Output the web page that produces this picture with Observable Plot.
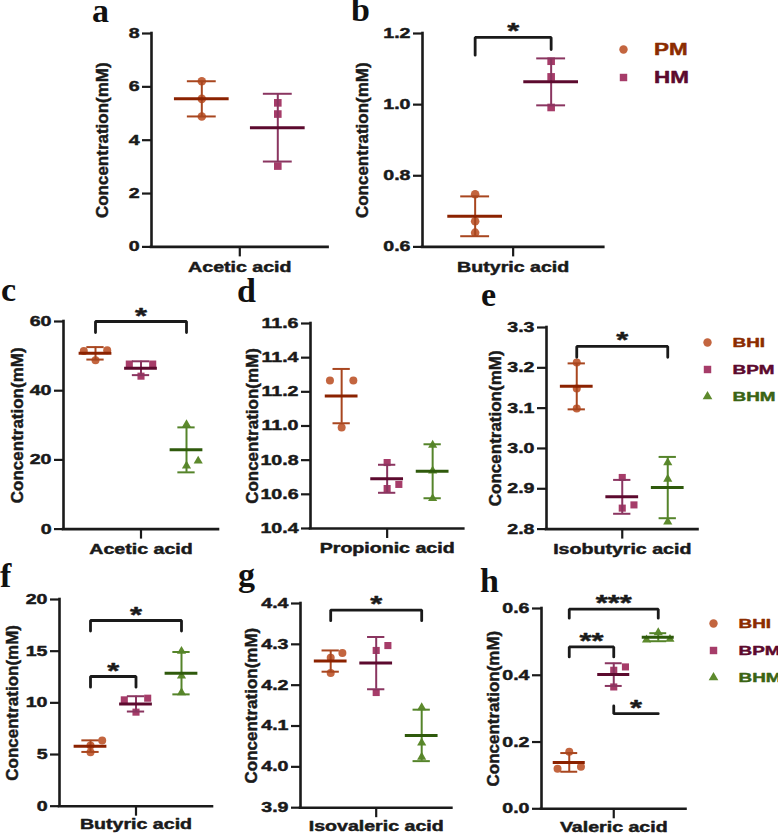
<!DOCTYPE html>
<html><head><meta charset="utf-8">
<script src="https://cdn.jsdelivr.net/npm/d3@7"></script>
<script src="https://cdn.jsdelivr.net/npm/@observablehq/plot@0.6"></script>
<style>
body{margin:0;background:#fff;}
#root{position:relative;width:778px;height:834px;overflow:hidden;background:#fff;}
.letter{position:absolute;font-family:"Liberation Serif","DejaVu Serif",serif;font-weight:bold;font-size:34px;line-height:20px;color:#111;}
.panel{position:absolute;overflow:visible;}
</style></head>
<body><div id="root"></div>
<script>
// ---------------- data ----------------
const groupsPH = ["PM", "HM"];
const groupsB = ["BHI", "BPM", "BHM"];
const yTitle = "Concentration(mM)";

// a: Acetic acid (PM, HM)
const aValues = [[6.21, 5.55, 4.89], [5.40, 4.98, 3.03]];
const aMean = [5.55, 4.47];
const aSD = [0.66, 1.27];
const aTicks = [0, 2, 4, 6, 8];

// b: Butyric acid (PM, HM)
const bValues = [[0.748, 0.672, 0.640], [1.122, 1.078, 0.992]];
const bMean = [0.686, 1.064];
const bSD = [0.056, 0.066];
const bTicks = [0.6, 0.8, 1.0, 1.2];
const bBrackets = [{from: 0, to: 1, y: 1.189, legFrom: 1.139, legTo: 1.155, label: "*"}];

// c: Acetic acid (BHI, BPM, BHM)
const cValues = [[51.5, 51.7, 48.8], [47.7, 47.7, 44.2], [30.2, 18.3, 19.7]];
const cMean = [50.8, 46.5, 22.9];
const cSD = [1.8, 2.0, 6.5];
const cTicks = [0, 20, 40, 60];
const cBrackets = [{from: 0, to: 2, y: 60, legFrom: 56.8, legTo: 56.8, label: "*"}];

// d: Propionic acid
const dValues = [[11.266, 11.266, 10.991], [10.786, 10.634, 10.658], [10.888, 10.738, 10.576]];
const dMean = [11.175, 10.691, 10.735];
const dSD = [0.159, 0.082, 0.158];
const dTicks = [10.4, 10.6, 10.8, 11.0, 11.2, 11.4, 11.6];

// e: Isobutyric acid
const eValues = [[3.213, 3.149, 3.099], [2.928, 2.852, 2.860], [2.965, 2.924, 2.818]];
const eMean = [3.154, 2.880, 2.903];
const eSD = [0.057, 0.042, 0.076];
const eTicks = [2.8, 2.9, 3.0, 3.1, 3.2, 3.3];
const eBrackets = [{from: 0, to: 2, y: 3.253, legFrom: 3.226, legTo: 3.226, label: "*"}];

// f: Butyric acid
const fValues = [[5.87, 6.35, 5.23], [10.29, 10.45, 9.10], [15.0, 12.6, 11.0]];
const fMean = [5.81, 9.90, 12.87];
const fSD = [0.56, 0.74, 2.05];
const fTicks = [0, 5, 10, 15, 20];
const fBrackets = [
  {from: 0, to: 2, y: 17.97, legFrom: 16.94, legTo: 16.94, label: "*"},
  {from: 0, to: 1, y: 12.55, legFrom: 11.52, legTo: 11.52, label: "*"}
];

// g: Isovaleric acid
const gValues = [[4.267, 4.279, 4.230], [4.297, 4.285, 4.182], [4.145, 4.059, 4.024]];
const gMean = [4.259, 4.254, 4.077];
const gSD = [0.026, 0.064, 0.063];
const gTicks = [3.9, 4.0, 4.1, 4.2, 4.3, 4.4];
const gBrackets = [{from: 0, to: 2, y: 4.384, legFrom: 4.358, legTo: 4.358, label: "*"}];

// h: Valeric acid
const hValues = [[0.171, 0.120, 0.126], [0.415, 0.425, 0.365], [0.528, 0.506, 0.508]];
const hMean = [0.139, 0.402, 0.514];
const hSD = [0.028, 0.034, 0.012];
const hTicks = [0.0, 0.2, 0.4, 0.6];
const hBrackets = [
  {from: 0, to: 2, y: 0.598, legFrom: 0.571, legTo: 0.571, label: "***"},
  {from: 0, to: 1, y: 0.485, legFrom: 0.455, legTo: 0.455, label: "**"},
  {from: 1, to: 2, y: 0.285, legFrom: 0.308, legTo: null, label: "*"}
];

// ---------------- styles ----------------
const pointColor = {PM: "#c3653f", HM: "#a63c69", BHI: "#c3653f", BPM: "#a63c69", BHM: "#5d8a2d"};
const meanColor = {PM: "#8b2200", HM: "#5c0a2e", BHI: "#8b2200", BPM: "#5c0a2e", BHM: "#2f5a0c"};
const whiskerColor = {PM: "#a8461f", HM: "#8a3560", BHI: "#a8461f", BPM: "#8a3560", BHM: "#55842a"};
const legendTextColor = {PM: "#8b2c00", HM: "#5c0a2e", BHI: "#8b2c00", BPM: "#5c0a2e", BHM: "#3a6414"};
const symbolOf = {PM: "circle", HM: "square", BHI: "circle", BPM: "square", BHM: "triangle"};
const ink = "#1a1a1a";
const FONT = "'Liberation Sans', Arial, sans-serif";
const STRETCH = 1.4;

const panels = [
  {id: "a", acid: "Acetic acid", groups: groupsPH, values: aValues, mean: aMean, sd: aSD, ticks: aTicks, fmt: "d", brackets: [],
   L: {left: 150.7, right: 327.3, top: 33.3, bottom: 246.7, titleDx: -49, spacing: 76, r: 4.3, pad: 5}},
  {id: "b", acid: "Butyric acid", groups: groupsPH, values: bValues, mean: bMean, sd: bSD, ticks: bTicks, fmt: ".1f", brackets: bBrackets,
   L: {left: 421.7, right: 603, top: 33.3, bottom: 246.7, titleDx: -60, spacing: 76, r: 4.3, pad: 5}},
  {id: "c", acid: "Acetic acid", groups: groupsB, values: cValues, mean: cMean, sd: cSD, ticks: cTicks, fmt: "d", brackets: cBrackets,
   L: {left: 63.3, right: 218.3, top: 320.7, bottom: 528.3, titleDx: -46, spacing: 45.5, r: 4, pad: 5}},
  {id: "d", acid: "Propionic acid", groups: groupsB, values: dValues, mean: dMean, sd: dSD, ticks: dTicks, fmt: ".1f", brackets: [],
   L: {left: 310, right: 463.3, top: 323.3, bottom: 528.3, titleDx: -58, spacing: 45.5, r: 4, pad: 5}},
  {id: "e", acid: "Isobutyric acid", groups: groupsB, values: eValues, mean: eMean, sd: eSD, ticks: eTicks, fmt: ".1f", brackets: eBrackets,
   L: {left: 545.8, right: 697.3, top: 326.7, bottom: 528.3, titleDx: -51, spacing: 45.5, r: 4, pad: 5}},
  {id: "f", acid: "Butyric acid", groups: groupsB, values: fValues, mean: fMean, sd: fSD, ticks: fTicks, fmt: "d", brackets: fBrackets,
   L: {left: 59.3, right: 212.3, top: 599, bottom: 805.7, titleDx: -47, spacing: 45.5, r: 4, pad: 3}},
  {id: "g", acid: "Isovaleric acid", groups: groupsB, values: gValues, mean: gMean, sd: gSD, ticks: gTicks, fmt: ".1f", brackets: gBrackets,
   L: {left: 300.3, right: 451.7, top: 603.3, bottom: 807.5, titleDx: -49, spacing: 45.5, r: 4, pad: 3}},
  {id: "h", acid: "Valeric acid", groups: groupsB, values: hValues, mean: hMean, sd: hSD, ticks: hTicks, fmt: ".1f", brackets: hBrackets,
   L: {left: 540.5, right: 685, top: 607.7, bottom: 808, titleDx: -48, spacing: 44.5, r: 4, pad: 3}}
];

const letters = [
  {t: "a", x: 92, base: 22}, {t: "b", x: 351, base: 21},
  {t: "c", x: 1, base: 301}, {t: "d", x: 237, base: 302}, {t: "e", x: 481, base: 306},
  {t: "f", x: 0, base: 587}, {t: "g", x: 238, base: 586}, {t: "h", x: 480, base: 592}
];

const legends = [
  {groups: groupsPH, x: 622.7, y: 49.3, step: 28, textDx: 30.6, fontSize: 16},
  {groups: groupsB, x: 706.7, y: 341, step: 27.7, textDx: 25, fontSize: 13.5},
  {groups: groupsB, x: 713.3, y: 621.7, step: 27.8, textDx: 25, fontSize: 13.5}
];

// GraphPad-like horizontal spreading of near-equal points
function dodge(vals, ppu) {
  const slots = vals.map(() => 0);
  const idx = vals.map((_, k) => k).sort((a, b) => vals[b] - vals[a]);
  for (let j = 0; j + 1 < idx.length; j++) {
    const hi = idx[j], lo = idx[j + 1];
    const gap = (vals[hi] - vals[lo]) * ppu;
    if (gap < 5.5) {
      slots[hi] = 1;
      slots[lo] = gap < 3 ? -1 : 0;
      j++;
    }
  }
  return slots;
}

// widen horizontal texts (the reference uses a wide, heavy bold face)
function widen(svg) {
  svg.querySelectorAll("text").forEach(t => {
    const fill = getComputedStyle(t).fill;
    t.style.stroke = fill;
    t.style.strokeWidth = "0.45px";
    t.style.strokeLinejoin = "round";
    const tr = t.getAttribute("transform") || "";
    if (tr.includes("rotate")) return;
    const len = t.getComputedTextLength();
    if (len > 0) {
      t.setAttribute("textLength", (len * STRETCH).toFixed(2));
      t.setAttribute("lengthAdjust", "spacingAndGlyphs");
    }
  });
}

const root = document.getElementById("root");

function renderPanel(p) {
  const L = p.L;
  const ml = 85, mr = 12, mt = 30, mb = 40;
  const fw = L.right - L.left, fh = L.bottom - L.top;
  const n = p.groups.length;
  const half = fw / 2 / L.spacing;
  const gx = i => i - (n - 1) / 2;
  const yDomain = [p.ticks[0], p.ticks[p.ticks.length - 1]];
  const ppu = fh / (yDomain[1] - yDomain[0]);
  const slotW = 11.7 / L.spacing;
  const meanHalf = 0.36, capHalf = 0.19;

  const stats = p.groups.map((g, i) => ({group: g, x: gx(i), mean: p.mean[i], lo: p.mean[i] - p.sd[i], hi: p.mean[i] + p.sd[i]}));

  const marks = [];
  p.groups.forEach((g, i) => {
    const vals = p.values[i];
    const slots = dodge(vals, ppu);
    const pts = vals.map((v, k) => ({value: v, x: gx(i) + slots[k] * slotW}));
    marks.push(Plot.dot(pts, {x: "x", y: "value", symbol: symbolOf[g], fill: pointColor[g], r: symbolOf[g] === "triangle" ? L.r * 0.85 : L.r}));
  });
  marks.push(Plot.ruleX(stats, {x: "x", y1: "lo", y2: "hi", stroke: d => whiskerColor[d.group], strokeWidth: 2}));
  marks.push(Plot.ruleY(stats, {y: "hi", x1: d => d.x - capHalf, x2: d => d.x + capHalf, stroke: d => whiskerColor[d.group], strokeWidth: 2}));
  marks.push(Plot.ruleY(stats, {y: "lo", x1: d => d.x - capHalf, x2: d => d.x + capHalf, stroke: d => whiskerColor[d.group], strokeWidth: 2}));
  marks.push(Plot.ruleY(stats, {y: "mean", x1: d => d.x - meanHalf, x2: d => d.x + meanHalf, stroke: d => meanColor[d.group], strokeWidth: 3}));

  marks.push(Plot.ruleX([-half], {y1: yDomain[0], y2: yDomain[1], stroke: ink, strokeWidth: 2.6, strokeLinecap: "square"}));
  marks.push(Plot.ruleY([yDomain[0]], {x1: -half, x2: half, stroke: ink, strokeWidth: 2.6, strokeLinecap: "square"}));
  marks.push(Plot.axisY({ticks: p.ticks, tickFormat: d3.format(p.fmt), tickSize: 9, tickPadding: 3, strokeWidth: 2.2, stroke: ink, label: null, fontSize: 14}));
  marks.push(Plot.axisX({ticks: [0], tickFormat: () => p.acid, tickSize: 10, tickPadding: L.pad, strokeWidth: 2.2, stroke: ink, label: null, fontSize: 14}));

  marks.push(Plot.text([yTitle], {frameAnchor: "left", dx: L.titleDx, rotate: -90, text: d => d, fontSize: 17, fontWeight: "bold", lineAnchor: "middle", textAnchor: "middle", fill: ink}));

  p.brackets.forEach(b => {
    const x1 = gx(b.from), x2 = gx(b.to);
    const path = [];
    if (b.legFrom != null) path.push({x: x1, y: b.legFrom});
    path.push({x: x1, y: b.y});
    path.push({x: x2, y: b.y});
    if (b.legTo != null) path.push({x: x2, y: b.legTo});
    marks.push(Plot.line(path, {x: "x", y: "y", stroke: ink, strokeWidth: 2.8, strokeLinejoin: "miter", curve: "linear"}));
    marks.push(Plot.text([b], {x: (x1 + x2) / 2, y: "y", text: "label", dy: -6, fontSize: 22, fontWeight: "bold", lineAnchor: "middle", fill: ink}));
  });

  const svg = Plot.plot({
    width: fw + ml + mr, height: fh + mt + mb,
    marginLeft: ml, marginRight: mr, marginTop: mt, marginBottom: mb,
    x: {domain: [-half, half]},
    y: {domain: yDomain},
    color: {type: "identity"},
    style: {fontFamily: FONT, fontWeight: "bold", fontSize: "14px", color: ink, background: "transparent", overflow: "visible"},
    marks
  });
  svg.classList.add("panel");
  svg.style.left = (L.left - ml) + "px";
  svg.style.top = (L.top - mt) + "px";
  root.appendChild(svg);
  widen(svg);
}

function renderLegend(lg) {
  const n = lg.groups.length;
  const m = 12;
  const marks = lg.groups.map(g => Plot.dot([g], {x: 0, y: d => d, symbol: symbolOf[g], fill: pointColor[g], r: symbolOf[g] === "triangle" ? 3.6 : 4.2}));
  lg.groups.forEach(g => marks.push(Plot.text([g], {x: 0, y: d => d, text: d => d, dx: lg.textDx, textAnchor: "start", lineAnchor: "middle", fill: legendTextColor[g], fontSize: lg.fontSize, fontWeight: "bold"})));
  const svg = Plot.plot({
    width: 100, height: lg.step * (n - 1) + 2 * m,
    marginLeft: m, marginRight: 0, marginTop: 0, marginBottom: 0,
    x: {domain: [0, 1], axis: null},
    y: {type: "point", domain: lg.groups, range: [m, m + lg.step * (n - 1)], padding: 0, axis: null},
    style: {fontFamily: FONT, fontWeight: "bold", background: "transparent", overflow: "visible"},
    marks
  });
  svg.classList.add("panel");
  svg.style.left = (lg.x - m) + "px";
  svg.style.top = (lg.y - m) + "px";
  root.appendChild(svg);
  widen(svg);
}

panels.forEach(renderPanel);
legends.forEach(renderLegend);
letters.forEach(l => {
  const div = document.createElement("div");
  div.className = "letter";
  div.textContent = l.t;
  div.style.left = l.x + "px";
  div.style.top = (l.base - 21.5) + "px";
  root.appendChild(div);
});
</script>
</body></html>
